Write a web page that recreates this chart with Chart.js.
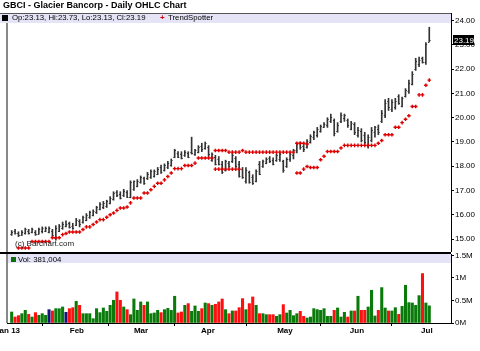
<!DOCTYPE html>
<html>
<head>
<meta charset="utf-8">
<script src="https://cdn.jsdelivr.net/npm/chart.js@4.4.0/dist/chart.umd.min.js"></script>
<style>
    body { margin: 0; background: #fff; font-family: "Liberation Sans", Arial, sans-serif; }
    #wrap { position: relative; width: 480px; height: 351px; overflow: hidden; }
    canvas { position: absolute; left: 0; }
    #priceChart { top: 0; }
    #volChart { top: 252px; }
    .txt { position: absolute; white-space: nowrap; color: #000; line-height: 1; }
    .box { position: absolute; }
</style>
</head>
<body>
<div id="wrap">
    <canvas id="priceChart" width="480" height="252"></canvas>
    <canvas id="volChart" width="480" height="99"></canvas>
    <div class="txt" style="left:3px; top:1px; font-size:9px; font-weight:bold;">GBCI - Glacier Bancorp - Daily OHLC Chart</div>
    <div class="box" style="left:2px; top:15px; width:6px; height:6px; background:#000;"></div>
    <div class="txt" id="ohlcLegend" style="left:12px; top:14px; font-size:7.8px;"></div>
    <div class="txt" style="left:160px; top:14px; font-size:8px; font-weight:bold; color:#d00000;">+</div>
    <div class="txt" style="left:168px; top:14px; font-size:7.8px;">TrendSpotter</div>
    <div class="txt" style="left:15px; top:240px; font-size:8px; color:#222;">(c) Barchart.com</div>
    <div class="box" style="left:11px; top:257px; width:5px; height:5px; background:#0a6e0a;"></div>
    <div class="txt" id="volLegend" style="left:18px; top:256px; font-size:7.8px;"></div>
</div>

<script>
// ---- dados ----
const monthLabels = ['Jan 13', 'Feb', 'Mar', 'Apr', 'May', 'Jun', 'Jul'];
const monthPos = [-1.2, 19.2, 38.1, 57.8, 80.5, 101.7, 122.3];
const priceTicks = [15, 16, 17, 18, 19, 20, 21, 22, 23, 24];
const volTicks = [0, 500000, 1000000, 1500000];

const highs = [
    15.35,15.40,15.30,15.35,15.45,15.40,15.45,15.35,15.45,15.50,
    15.50,15.50,15.40,15.55,15.60,15.70,15.75,15.70,15.65,15.85,
    15.80,15.95,16.05,16.15,16.20,16.35,16.50,16.55,16.60,16.75,
    16.95,17.00,16.95,17.05,17.00,17.40,17.40,17.45,17.60,17.55,
    17.75,17.85,17.85,17.95,18.05,18.10,18.20,18.30,18.70,18.60,
    18.60,18.65,18.60,19.20,18.70,18.85,18.95,19.00,18.85,18.55,
    18.45,18.40,18.20,18.25,18.20,18.55,18.40,18.20,17.95,17.95,
    17.80,17.65,17.85,18.20,18.25,18.35,18.40,18.35,18.50,18.55,
    18.25,18.35,18.55,18.70,18.95,19.00,18.95,19.10,19.30,19.45,
    19.60,19.70,19.80,20.00,20.15,19.95,19.80,20.20,20.15,19.95,
    19.85,19.80,19.60,19.55,19.40,19.30,19.60,19.65,19.70,20.30,
    20.75,20.80,20.75,20.80,20.95,20.85,21.20,21.55,21.90,22.45,
    22.50,22.50,23.10,23.73
];
const lows = [
    15.15,15.20,15.10,15.15,15.20,15.20,15.25,15.15,15.20,15.25,
    15.30,15.25,15.10,14.95,15.30,15.40,15.50,15.45,15.40,15.55,
    15.50,15.65,15.75,15.85,15.95,16.05,16.20,16.25,16.30,16.45,
    16.60,16.75,16.65,16.75,16.70,16.70,17.00,17.15,17.30,17.25,
    17.45,17.50,17.55,17.65,17.70,17.80,17.90,18.00,18.35,18.35,
    18.30,18.40,18.35,18.50,18.45,18.55,18.60,18.70,18.40,18.20,
    18.05,18.05,17.70,17.80,17.95,18.15,17.95,17.55,17.50,17.30,
    17.30,17.25,17.35,17.65,17.95,18.10,18.15,18.05,18.20,18.20,
    17.75,17.95,18.20,18.30,18.55,18.70,18.60,18.75,18.95,19.10,
    19.20,19.40,19.60,19.60,19.80,19.25,19.40,19.80,19.85,19.60,
    19.50,19.30,19.20,19.00,18.90,18.75,19.00,19.20,19.30,19.80,
    20.00,20.30,20.25,20.35,20.55,20.45,20.85,21.00,21.35,21.95,
    22.10,22.25,22.20,23.13
];
const opens = [
    15.20,15.35,15.25,15.18,15.25,15.35,15.28,15.30,15.22,15.35,
    15.35,15.30,15.35,15.05,15.35,15.45,15.55,15.65,15.55,15.58,
    15.75,15.70,15.80,15.90,16.00,16.10,16.25,16.30,16.35,16.50,
    16.65,16.95,16.85,16.80,16.95,16.75,17.05,17.20,17.35,17.50,
    17.50,17.55,17.60,17.70,17.95,17.85,17.95,18.05,18.40,18.55,
    18.50,18.45,18.55,18.60,18.50,18.60,18.85,18.75,18.80,18.25,
    18.40,18.30,18.10,17.85,18.15,18.20,18.35,18.10,17.90,17.40,
    17.75,17.55,17.40,18.10,18.00,18.15,18.35,18.25,18.25,18.30,
    18.20,18.00,18.30,18.45,18.65,18.95,18.85,18.80,19.00,19.20,
    19.30,19.45,19.62,19.70,19.85,19.90,19.45,19.85,20.00,19.90,
    19.55,19.75,19.30,19.45,19.30,18.85,19.10,19.40,19.55,19.85,
    20.10,20.70,20.35,20.45,20.90,20.50,20.90,21.10,21.40,22.00,
    22.20,22.45,22.30,23.13
];
const closes = [
    15.30,15.25,15.15,15.30,15.40,15.25,15.40,15.20,15.40,15.45,
    15.47,15.47,15.15,15.45,15.55,15.62,15.62,15.50,15.45,15.80,
    15.60,15.90,16.00,16.10,16.15,16.30,16.45,16.50,16.55,16.70,
    16.90,16.80,16.70,17.00,16.75,17.35,17.38,17.40,17.55,17.30,
    17.70,17.80,17.82,17.90,17.75,18.05,18.15,18.25,18.65,18.40,
    18.35,18.60,18.40,18.55,18.65,18.80,18.70,18.95,18.50,18.52,
    18.10,18.08,17.75,18.20,18.00,18.45,18.00,17.60,17.55,17.85,
    17.35,17.30,17.80,17.70,18.20,18.30,18.20,18.10,18.45,18.50,
    17.85,18.30,18.50,18.65,18.90,18.80,18.70,19.05,19.25,19.40,
    19.55,19.65,19.75,19.95,20.05,19.35,19.70,20.10,20.12,19.70,
    19.80,19.40,19.50,19.10,19.00,19.20,19.50,19.60,19.40,20.20,
    20.60,20.45,20.65,20.70,20.60,20.80,21.15,21.45,21.80,22.35,
    22.40,22.30,23.05,23.19
];
const volumes = [
    244000,133000,163000,207000,281000,193000,133000,230000,170000,207000,
    170000,296000,267000,318000,318000,355000,237000,318000,340000,481000,
    392000,207000,207000,207000,96000,318000,230000,333000,259000,392000,
    504000,689000,504000,355000,296000,185000,533000,281000,467000,392000,
    467000,207000,222000,281000,230000,296000,326000,281000,593000,222000,
    244000,392000,430000,259000,378000,259000,318000,444000,430000,392000,
    415000,467000,533000,296000,207000,267000,267000,340000,541000,296000,
    430000,578000,392000,207000,207000,185000,185000,185000,148000,185000,
    407000,222000,281000,163000,207000,259000,148000,111000,133000,318000,
    296000,281000,318000,148000,148000,281000,333000,133000,237000,133000,
    267000,267000,593000,281000,281000,355000,726000,156000,281000,785000,
    333000,267000,267000,340000,193000,370000,837000,452000,444000,392000,
    607000,1096000,444000,381004
];
// TrendSpotter: duas fileiras de pontos (null = sem ponto)
const trendUpper = [
    null,null,14.63,14.63,14.63,14.63,14.90,14.90,14.90,14.90,
    14.90,14.90,15.05,15.05,15.05,15.18,15.23,15.29,15.29,15.29,
    15.29,15.39,15.50,15.50,15.60,15.70,15.80,15.80,15.90,16.00,
    16.07,16.18,16.28,16.28,16.32,16.49,16.69,16.69,16.69,16.90,
    16.90,17.03,17.17,17.30,17.30,17.44,17.58,17.72,17.90,17.90,
    17.90,18.03,18.03,18.03,18.13,18.34,18.34,18.34,18.34,18.34,
    18.65,18.65,18.65,18.65,18.58,18.58,18.58,18.58,18.65,18.58,
    18.58,18.58,18.58,18.58,18.58,18.58,18.58,18.58,18.58,18.58,
    18.58,18.58,18.58,18.58,18.95,18.95,18.95,18.92,null,null,
    null,null,null,null,null,null,null,null,null,null,
    null,null,null,null,null,null,null,null,null,null,
    null,null,null,null,null,null,null,null,null,null,
    null,null,null,null
];
const trendLower = [
    null,null,null,null,null,null,null,null,null,null,
    null,null,null,null,null,null,null,null,null,null,
    null,null,null,null,null,null,null,null,null,null,
    null,null,null,null,null,null,null,null,null,null,
    null,null,null,null,null,null,null,null,null,null,
    null,null,null,null,null,null,null,null,null,null,
    17.88,17.88,17.88,17.88,17.88,17.88,17.88,17.88,null,null,
    null,null,null,null,null,null,null,null,null,null,
    null,null,null,null,17.72,17.72,17.88,17.99,17.95,17.95,
    17.95,18.27,18.41,18.61,18.61,18.61,18.61,18.75,18.86,18.86,
    18.86,18.86,18.86,18.86,18.86,18.86,18.86,18.86,18.95,19.06,
    19.30,19.30,19.30,19.61,19.61,19.80,19.94,20.08,20.46,20.46,
    20.94,20.94,21.34,21.55
];

// ---- layout ----
const X_MIN = -1.38;
const X_MAX = 129.4;
const FONT = '"Liberation Sans", Arial, sans-serif';
const UP = '#0a7a0a', DOWN = '#ff1010', FLAT = '#14147a';
const BAND = '#e4e4f6';

Chart.defaults.font.family = FONT;

const last = closes.length - 1;
document.getElementById('ohlcLegend').textContent =
    'Op:' + opens[last].toFixed(2) + ', Hi:' + highs[last].toFixed(2) +
    ', Lo:' + lows[last].toFixed(2) + ', Cl:' + closes[last].toFixed(2);
document.getElementById('volLegend').textContent = 'Vol: ' + volumes[last].toLocaleString('en-US');

function toPoints(arr) {
    return arr.map((v, i) => ({ x: i, y: v })).filter(p => p.y !== null);
}

// cor do volume conforme o fechamento anterior
const volColors = closes.map((c, i) => {
    const prev = i > 0 ? closes[i - 1] : opens[0];
    if (c > prev) return UP;
    if (c < prev) return DOWN;
    return FLAT;
});

// faixa de legenda + bordas do painel de preco
const pricePanel = {
    id: 'pricePanel',
    beforeDatasetsDraw(chart) {
        const { ctx, chartArea: a } = chart;
        ctx.save();
        ctx.fillStyle = BAND;
        ctx.fillRect(0, a.top, a.right, 10);
        ctx.strokeStyle = '#555';
        ctx.lineWidth = 1;
        ctx.beginPath();
        ctx.moveTo(0, a.top + 0.5); ctx.lineTo(a.right, a.top + 0.5);
        ctx.stroke();
        ctx.strokeStyle = '#888';
        ctx.lineWidth = 2;
        ctx.beginPath();
        ctx.moveTo(a.left, a.top + 10); ctx.lineTo(a.left, a.bottom);
        ctx.stroke();
        ctx.restore();
    },
    afterDatasetDraw(chart, args) {
        if (args.index !== 0) return;
        // tracinhos de abertura (esq.) e fechamento (dir.)
        const xs = chart.scales.x, ys = chart.scales.y, ctx = chart.ctx;
        ctx.save();
        ctx.strokeStyle = '#333';
        ctx.lineWidth = 1;
        ctx.beginPath();
        for (let i = 0; i < closes.length; i++) {
            const x = xs.getPixelForValue(i);
            const yo = Math.round(ys.getPixelForValue(opens[i])) + 0.5;
            const yc = Math.round(ys.getPixelForValue(closes[i])) + 0.5;
            ctx.moveTo(x - 1.3, yo); ctx.lineTo(x, yo);
            ctx.moveTo(x, yc); ctx.lineTo(x + 1.3, yc);
        }
        ctx.stroke();
        ctx.restore();
    },
    afterDraw(chart) {
        // etiqueta do ultimo preco
        const ys = chart.scales.y, ctx = chart.ctx;
        const y = Math.round(ys.getPixelForValue(closes[last]));
        ctx.save();
        ctx.fillStyle = '#000';
        ctx.fillRect(453, y - 5, 21, 10);
        ctx.fillStyle = '#fff';
        ctx.font = '8px ' + FONT;
        ctx.textBaseline = 'middle';
        ctx.fillText(closes[last].toFixed(2), 454, y + 0.5);
        ctx.restore();
    }
};

const volPanel = {
    id: 'volPanel',
    beforeDatasetsDraw(chart) {
        const { ctx, chartArea: a } = chart;
        ctx.save();
        ctx.fillStyle = BAND;
        ctx.fillRect(a.left, a.top, a.right - a.left, 9);
        ctx.fillStyle = '#000';
        ctx.fillRect(0, 0, a.right, 2);
        ctx.strokeStyle = '#888';
        ctx.lineWidth = 2;
        ctx.beginPath();
        ctx.moveTo(a.left, a.top); ctx.lineTo(a.left, a.bottom);
        ctx.stroke();
        ctx.restore();
    }
};

function rightAxis(min, max, ticks, fmt) {
    return {
        position: 'right',
        min: min,
        max: max,
        afterBuildTicks: s => { s.ticks = ticks.map(v => ({ value: v })); },
        afterFit: s => { s.width = 29; s.paddingTop = 0; s.paddingBottom = 0; },
        ticks: { callback: fmt, font: { size: 8 }, color: '#000', padding: 1 },
        grid: { drawOnChartArea: false, tickLength: 3, color: '#000' },
        border: { color: '#000' }
    };
}

new Chart(document.getElementById('priceChart'), {
    data: {
        datasets: [
            {
                type: 'bar',
                label: 'OHLC',
                data: highs.map((h, i) => ({ x: i, y: [lows[i], h] })),
                backgroundColor: '#333',
                barThickness: 1,
                order: 2
            },
            {
                type: 'line',
                label: 'TrendSpotter',
                data: toPoints(trendUpper),
                showLine: false,
                pointStyle: 'cross',
                pointRadius: 1.8,
                pointBorderWidth: 1.4,
                borderColor: '#dd0000',
                order: 1
            },
            {
                type: 'line',
                label: 'TrendSpotter ',
                data: toPoints(trendLower),
                showLine: false,
                pointStyle: 'cross',
                pointRadius: 1.8,
                pointBorderWidth: 1.4,
                borderColor: '#dd0000',
                order: 1
            }
        ]
    },
    options: {
        responsive: false,
        animation: false,
        layout: { autoPadding: false, padding: { left: 7, top: 13, right: 0, bottom: 0 } },
        plugins: { legend: { display: false }, tooltip: { enabled: false } },
        scales: {
            x: { type: 'linear', min: X_MIN, max: X_MAX, offset: false, display: false },
            y: rightAxis(14.465, 24.317, priceTicks, v => v.toFixed(2))
        }
    },
    plugins: [pricePanel]
});

new Chart(document.getElementById('volChart'), {
    type: 'bar',
    data: {
        datasets: [{
            label: 'Vol',
            data: volumes.map((v, i) => ({ x: i, y: v })),
            backgroundColor: volColors,
            barThickness: 2.4
        }]
    },
    options: {
        responsive: false,
        animation: false,
        layout: { autoPadding: false, padding: { left: 7, top: 2, right: 0, bottom: 0 } },
        plugins: { legend: { display: false }, tooltip: { enabled: false } },
        scales: {
            x: {
                type: 'linear',
                min: X_MIN,
                max: X_MAX,
                offset: false,
                afterBuildTicks: s => { s.ticks = monthPos.map(v => ({ value: v })); },
                afterFit: s => { s.height = 28; s.paddingLeft = 0; s.paddingRight = 0; },
                ticks: {
                    autoSkip: false,
                    maxRotation: 0,
                    padding: 0,
                    font: { size: 8, weight: 'bold' },
                    color: '#000',
                    callback: (v, i) => monthLabels[i]
                },
                grid: { drawOnChartArea: false, tickLength: 3, color: '#000' },
                border: { color: '#000' }
            },
            y: rightAxis(0, 1530000, volTicks, v => (v / 1000000) + 'M')
        }
    },
    plugins: [volPanel]
});
</script>
</body>
</html>
